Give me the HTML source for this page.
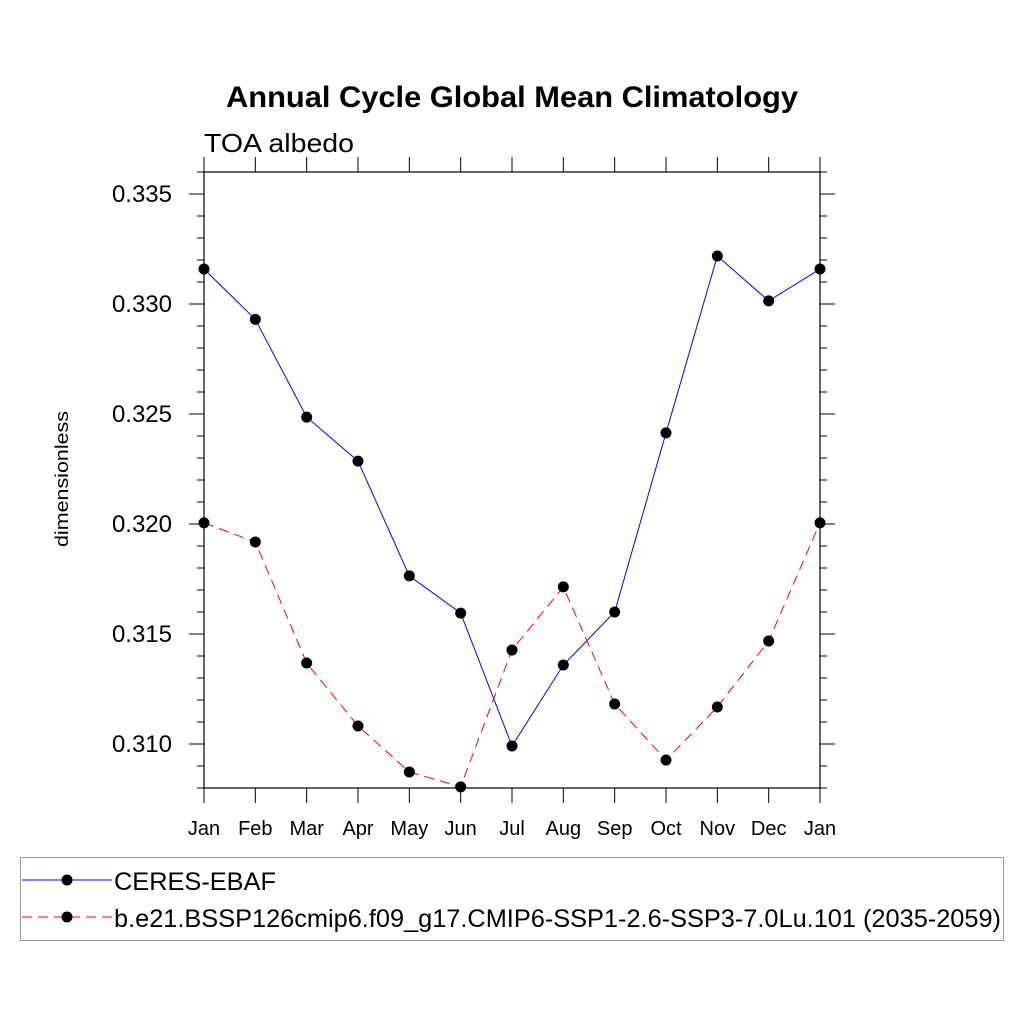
<!DOCTYPE html>
<html><head><meta charset="utf-8"><style>
body{margin:0;background:#fff}
text{font-family:"Liberation Sans",sans-serif}
</style></head><body>
<svg id="c" width="1024" height="1024" xmlns="http://www.w3.org/2000/svg">
<rect width="1024" height="1024" fill="#fff"/>
<text x="226" y="107" font-size="30" font-weight="bold" textLength="572" lengthAdjust="spacingAndGlyphs">Annual Cycle Global Mean Climatology</text>
<text x="204" y="152" font-size="26" textLength="150" lengthAdjust="spacingAndGlyphs">TOA albedo</text>
<text transform="translate(68,479) rotate(-90)" text-anchor="middle" font-size="18" textLength="136" lengthAdjust="spacingAndGlyphs">dimensionless</text>
<g id="ax"></g>
<g id="series"></g>
<rect x="20.5" y="857.5" width="983" height="83" fill="none" stroke="#999"/>
<g>
<line x1="22" y1="880" x2="112" y2="880" stroke="blue" stroke-width="1"/>
<circle cx="67" cy="880" r="5.5" fill="#000"/>
<text x="114" y="890" font-size="25" textLength="162" lengthAdjust="spacingAndGlyphs">CERES-EBAF</text></g>
<g>
<line x1="22" y1="917" x2="112" y2="917" stroke="red" stroke-width="1" stroke-dasharray="10,6"/>
<circle cx="67" cy="917" r="5.5" fill="#000"/>
<text x="114" y="927" font-size="25" textLength="887" lengthAdjust="spacingAndGlyphs">b.e21.BSSP126cmip6.f09_g17.CMIP6-SSP1-2.6-SSP3-7.0Lu.101 (2035-2059)</text></g>
</svg>
<script>
const months=["Jan","Feb","Mar","Apr","May","Jun","Jul","Aug","Sep","Oct","Nov","Dec","Jan"];
const ceres=[0.33159,0.3293,0.32486,0.32286,0.31764,0.31595,0.30991,0.31359,0.316,0.32414,0.33218,0.33014,0.33159];
const model=[0.32005,0.31918,0.31368,0.31082,0.30873,0.30805,0.31427,0.31714,0.31182,0.30927,0.31168,0.31468,0.32005];
const yTicks=[0.310,0.315,0.320,0.325,0.330,0.335];
const yTickLabels=["0.310","0.315","0.320","0.325","0.330","0.335"];
const X0=204,X1=820,Y0=788,Y1=172,ymin=0.308,ymax=0.336;
const xs=i=>X0+(X1-X0)*i/(months.length-1);
const ys=v=>Y0-(v-ymin)/(ymax-ymin)*(Y0-Y1);
const NS="http://www.w3.org/2000/svg";
function mk(t,a,p){const e=document.createElementNS(NS,t);for(const k in a)e.setAttribute(k,a[k]);p.appendChild(e);return e;}
const ax=document.getElementById('ax');
const frame=mk('rect',{x:X0,y:Y1,width:X1-X0,height:Y0-Y1,fill:'none',stroke:'#000','stroke-width':1.2},ax);


months.forEach((m,i)=>{
  const x=xs(i);
  mk('line',{x1:x,y1:Y1,x2:x,y2:Y1-15,stroke:'#000'},ax);
  mk('line',{x1:x,y1:Y0,x2:x,y2:Y0+15,stroke:'#000'},ax);
  const t=mk('text',{x:x,y:835,'text-anchor':'middle','font-size':20},ax);
  t.textContent=m;
  
  
});
for(let k=0;k<=28;k++){
  const v=ymin+k*0.001,y=ys(v);
  const major=(k+3)%5===0;
  const L=major?15:7;
  mk('line',{x1:X0,y1:y,x2:X0-L,y2:y,stroke:'#000'},ax);
  mk('line',{x1:X1,y1:y,x2:X1+L,y2:y,stroke:'#000'},ax);
}
yTicks.forEach((v,i)=>{
  const t=mk('text',{x:172,y:ys(v)+8,'text-anchor':'end','font-size':24},ax);
  t.textContent=yTickLabels[i];
  
  
});
const sg=document.getElementById('series');
function draw(vals,color,dash,name){
  const g=mk('g',{},sg);
  
  
  const pts=vals.map((v,i)=>xs(i)+','+ys(v)).join(' ');
  const pl=mk('polyline',{points:pts,fill:'none',stroke:color,'stroke-width':1,'stroke-dasharray':dash},g);
  
  vals.forEach((v,i)=>{
    const c=mk('circle',{cx:xs(i),cy:ys(v),r:5.5,fill:'#000'},g);
    
  });
}
draw(ceres,'blue','none','series-ceres');
draw(model,'red','10,6','series-model');
</script>
</body></html>
